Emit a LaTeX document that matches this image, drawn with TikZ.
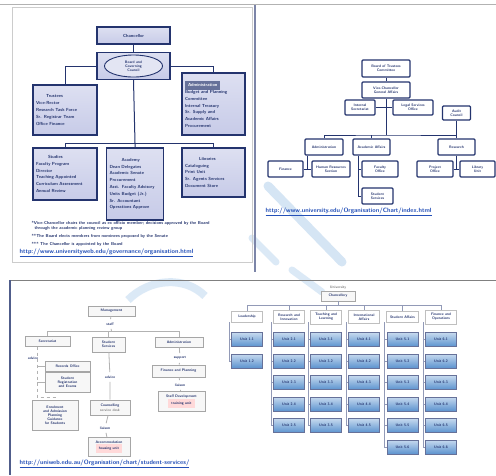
\documentclass[tikz,border=0pt]{standalone}
\usepackage{xcolor}
\usepackage{tikz}
\usetikzlibrary{shapes.geometric}
\definecolor{navy}{HTML}{24346E}
\definecolor{lav}{HTML}{C7CBE8}
\definecolor{linkblue}{HTML}{2450B8}
\definecolor{wmblue}{HTML}{B9D4EE}
\definecolor{cellblue}{HTML}{5C93CF}
\newcommand{\orgtiny}{\fontsize{4.4}{6.8}\selectfont\sffamily\bfseries}
\newcommand{\orgmini}{\fontsize{3.6}{4.1}\selectfont\sffamily\bfseries}
\newcommand{\orgnote}{\fontsize{4.3}{5}\selectfont\sffamily\bfseries}
\newcommand{\orglink}{\fontsize{6.2}{7}\selectfont\sffamily\bfseries}
\tikzset{
  tlbox/.style={draw=navy, line width=1.3pt, top color=lav!60, bottom color=lav, text=navy, font=\orgtiny, align=left, inner sep=2pt},
  trbox/.style={draw=navy, line width=1.3pt, fill=white, rounded corners=1pt, text=navy, font=\orgmini, align=center},
  blbox/.style={draw=gray!70, line width=0.8pt, fill=gray!6, text=navy, font=\orgmini, align=center},
  bllabel/.style={text=navy, font=\orgmini},
  brhead/.style={draw=gray!50, fill=white, text=navy, font=\orgmini, align=center, minimum width=31pt, minimum height=11pt},
  brcell/.style={draw=navy!70, line width=0.6pt, top color=cellblue!35, bottom color=cellblue, text=navy, font=\orgmini, align=center, minimum width=31pt, minimum height=14pt},
  link/.style={text=linkblue, font=\orglink, anchor=west},
  orgline/.style={navy, line width=1pt},
  greyline/.style={gray!60, line width=0.8pt}
}
\begin{document}
\begin{tikzpicture}[x=1pt, y=-1pt]
    \useasboundingbox (0,0) rectangle (496,475);
    \fill[white] (0,0) rectangle (496,475);
    % watermark
    \draw[wmblue, line width=9pt, opacity=0.6, line cap=round] (268,186) -- (342,262);
    \draw[wmblue, line width=7pt, opacity=0.5, line cap=round] (252,238) -- (276,262);
    \draw[wmblue, line width=8pt, opacity=0.5] (128,300) .. controls (150,278) and (185,276) .. (205,296);
    \draw[wmblue, line width=7pt, opacity=0.5, line cap=round] (292,270) -- (322,292);
    % frames
    \draw[gray!40, line width=0.6pt] (12,7) rectangle (252,262);
    \draw[gray!60, line width=0.8pt] (0,4) -- (496,4);
    \draw[navy!60, line width=1.5pt] (255,5) -- (255,272);
    \draw[gray, line width=1pt] (10,280) -- (496,280);
    \draw[navy!80, line width=1.5pt] (10,280) -- (10,475);

    % top left chart
    \node[tlbox, fill=navy!40, minimum width=73pt, minimum height=17pt, align=center] (tlTop) at (133.5,35.5) {Chancellor};
    \node[tlbox, minimum width=73pt, minimum height=27pt] (tlBoard) at (133.5,66) {};
    \node[draw=navy, line width=0.9pt, ellipse, fill=lav!50, text=navy, font=\orgmini, align=center, inner sep=0.5pt, minimum width=58pt, minimum height=22pt] (tlOval) at (133.5,66) {Board and\\ Governing\\ Council};
    \node[tlbox, minimum width=64pt, minimum height=50pt, text width=58pt] (tlL) at (65,110) {\hspace*{10pt}Trustees\\ Vice-Rector\\ Research Task Force\\ Sr. Registrar Team\\ Office Finance};
    \node[tlbox, minimum width=63pt, minimum height=62pt, text width=57pt] (tlR) at (213.5,104) {\colorbox{navy!70}{\textcolor{white}{Administration}}\\ Budget and Planning\\ Committee\\ Internal Treasury\\ Sr. Supply and\\ Academic Affairs\\ Procurement};
    \node[tlbox, minimum width=64pt, minimum height=52pt, text width=58pt] (tlB1) at (65,174) {\hspace*{12pt}Studies\\ Faculty Program\\ Director\\ Teaching Appointed\\ Curriculum Assessment\\ Annual Review};
    \node[tlbox, minimum width=57pt, minimum height=72pt, text width=51pt] (tlB2) at (135,184) {\hspace*{12pt}Academy\\ Dean Delegates\\ Academic Senate\\ Procurement\\ Asst. Faculty Advisory\\ Units Budget (Jr.)\\ Sr. Accountant\\ Operations Approve};
    \node[tlbox, minimum width=63pt, minimum height=49pt, text width=57pt] (tlB3) at (213.5,172.5) {\hspace*{14pt}Libraries\\ Cataloguing\\ Print Unit\\ Sr. Agents Services\\ Document Store};
    \coordinate (tlJ) at (135,143);
    \draw[orgline] (tlTop) -- (tlBoard);
    \draw[orgline] (tlBoard.west) -| (tlL.north);
    \draw[orgline] (tlBoard.east) -| (tlR.north);
    \draw[orgline] (tlBoard.south) -- (tlJ) -- (tlB2.north);
    \draw[orgline] (tlJ) -| (tlB1.north);
    \draw[orgline] (tlJ) -| (tlB3.north);
    \node[text=navy, font=\orgnote, anchor=west, align=left] (tlN1) at (28,226) {*Vice-Chancellor chairs the council as ex officio member; decisions approved by the Board\\ \hspace*{3pt}through the academic planning review group};
    \node[text=navy, font=\orgnote, anchor=west] (tlN2) at (28,236) {**The Board elects members from nominees proposed by the Senate};
    \node[text=navy, font=\orgnote, anchor=west] (tlN3) at (28,244) {*** The Chancellor is appointed by the Board};
    \node[link] (tlUrl) at (16,253) {\underline{http://www.universityweb.edu/governance/organisation.html}};

    % top right chart
    \node[trbox, minimum width=48pt, minimum height=17pt] (trA) at (386,68.5) {Board of Trustees\\ Committee};
    \node[trbox, minimum width=48pt, minimum height=16pt] (trB) at (386,90) {Vice-Chancellor\\ General Affairs};
    \node[trbox, minimum width=30pt, minimum height=15pt] (trC) at (360,107.5) {Internal\\ Secretariat};
    \node[trbox, minimum width=40pt, minimum height=15pt] (trD) at (413,107.5) {Legal Services\\ Office};
    \node[trbox, minimum width=28pt, minimum height=14pt] (trE) at (456.5,113) {Audit\\ Council};
    \node[trbox, minimum width=38pt, minimum height=16pt] (trF) at (324,147) {Administration};
    \node[trbox, minimum width=37pt, minimum height=16pt] (trG) at (371.5,147) {Academic Affairs};
    \node[trbox, minimum width=37pt, minimum height=16pt] (trH) at (456.5,147) {Research};
    \node[trbox, minimum width=35pt, minimum height=16pt] (trF1) at (285.5,169) {Finance};
    \node[trbox, minimum width=38pt, minimum height=16pt] (trF2) at (331,169) {Human Resources\\ Section};
    \node[trbox, minimum width=36pt, minimum height=16pt] (trG1) at (380,169) {Faculty\\ Office};
    \node[trbox, minimum width=31pt, minimum height=16pt] (trG2) at (377.5,196) {Student\\ Services};
    \node[trbox, minimum width=36pt, minimum height=16pt] (trH1) at (435,169) {Project\\ Office};
    \node[trbox, minimum width=35pt, minimum height=16pt] (trH2) at (477.5,169) {Library\\ Unit};
    \coordinate (trBus) at (386,135);
    \coordinate (trFj) at (307.5,169);
    \coordinate (trGj) at (358,196);
    \draw[orgline] (trA) -- (trB);
    \draw[orgline] (trB.south) -- (trBus);
    \draw[orgline] (trC.east) -- (trD.west);
    \draw[orgline] (trF.north) |- (trBus) -| (trH.north);
    \draw[orgline] (trG.north) -- (trG.north |- trBus);
    \draw[orgline] (trE) -- (trH);
    \draw[orgline] (trF.south -| trFj) -- (trFj);
    \draw[orgline] (trF1.east) -- (trF2.west);
    \draw[orgline] (trG.south -| trGj) -- (trGj) -- (trG2.west);
    \draw[orgline] (trG1.west -| trGj) -- (trG1.west);
    \draw[orgline] (trH.south) -- (trH.south |- trH1.east);
    \draw[orgline] (trH1.east) -- (trH2.west);
    \node[link] (trUrl) at (262,212) {\underline{http://www.university.edu/Organisation/Chart/index.html}};

    % bottom left chart
    \node[blbox, minimum width=47pt, minimum height=9pt] (blTop) at (111.5,311) {Management};
    \node[bllabel] (blTopl) at (110,324) {staff};
    \node[blbox, minimum width=45pt, minimum height=9pt] (blL1) at (47.5,341.5) {Secretariat};
    \node[blbox, minimum width=33pt, minimum height=15pt] (blL2) at (108.5,344.5) {Student\\ Services};
    \node[blbox, minimum width=48pt, minimum height=10pt] (blL3) at (179,342) {Administration};
    \node[bllabel] (blL1l) at (33,358) {advice};
    \node[blbox, minimum width=45pt, minimum height=7pt] (blL1a) at (67.5,366.5) {Records Office};
    \node[blbox, minimum width=45pt, minimum height=20pt] (blL1b) at (67.5,382) {Student\\ Registration\\ and Exams};
    \node[blbox, minimum width=46pt, minimum height=30pt] (blL1c) at (55,415) {Enrolment\\ and Admission\\ Planning\\ Guidance\\ for Students};
    \node[bllabel] (blL2l) at (110,377) {advice};
    \node[blbox, minimum width=40pt, minimum height=15pt] (blL2a) at (110,407.5) {Counselling\\[1pt] \textcolor{gray}{service desk}};
    \node[bllabel] (blL2m) at (105,428) {liaison};
    \node[blbox, minimum width=42pt, minimum height=10pt] (blL2b) at (109,447) {Accommodation\\ \colorbox{red!15}{housing unit}};
    \node[bllabel] (blL3l) at (180,358) {support};
    \node[blbox, minimum width=53pt, minimum height=12pt] (blL3a) at (178.5,371) {Finance and Planning};
    \node[bllabel] (blL3m) at (180,385) {liaison};
    \node[blbox, minimum width=47pt, minimum height=17pt] (blL3b) at (181.5,401.5) {Staff Development\\ \colorbox{red!15}{training unit}};
    \coordinate (blBus) at (111.5,331);
    \coordinate (blJ) at (37,397);
    \draw[greyline] (blTop) -- (blTopl) -- (blBus);
    \draw[greyline] (blL1.north |- blBus) -- (blL3.north |- blBus);
    \draw[greyline] (blL1.north |- blBus) -- (blL1.north);
    \draw[greyline] (blL2.north |- blBus) -- (blL2.north);
    \draw[greyline] (blL3.north |- blBus) -- (blL3.north);
    \draw[greyline, dashed] (blL1.south -| blJ) -- (blJ) -| (blL1c.north);
    \draw[greyline] (blL1a.west -| blJ) -- (blL1a.west);
    \draw[greyline] (blL1b.west -| blJ) -- (blL1b.west);
    \draw[greyline] (blL2) -- (blL2l) -- (blL2a) -- (blL2m) -- (blL2b);
    \draw[greyline] (blL3) -- (blL3l) -- (blL3a) -- (blL3m) -- (blL3b);
    \node[link] (blUrl) at (16,464) {\underline{http://uniweb.edu.au/Organisation/chart/student-services/}};

    % bottom right chart
    \node[bllabel, text=gray] (brTopl) at (338,288) {University};
    \node[blbox, minimum width=34pt, minimum height=7pt] (brTop) at (338,296) {Chancellery};
    \coordinate (brBus) at (338,305);
    \draw[greyline, navy!50] (brTop) -- (brBus);
    \foreach \c/\x/\n/\h in {1/247/2/Leadership, 2/289/5/Research and\\ Innovation, 3/326/5/Teaching and\\ Learning, 4/364/5/International\\ Affairs, 5/402.5/6/Student Affairs, 6/441/6/Finance and\\ Operations}{
      \node[brhead] (brH\c) at (\x,317) {\h};
      \draw[navy!50, line width=0.8pt] (brH\c.north) -- (brH\c.north |- brBus);
      \draw[navy!50, line width=0.8pt] ({\x-18},322) -- ++(0,{21.5*(\n-1)+18});
      \foreach \r in {1,...,\n}{
        \node[brcell] (brC\c R\r) at (\x,{339.5+21.5*(\r-1)}) {Unit \c.\r};
        \draw[navy!50, line width=0.6pt] (brC\c R\r.west) -- ++(-2.5,0);
      }
    }
    \draw[navy!50, line width=0.8pt] (brH1.north |- brBus) -- (brH6.north |- brBus);
\end{tikzpicture}
\end{document}
